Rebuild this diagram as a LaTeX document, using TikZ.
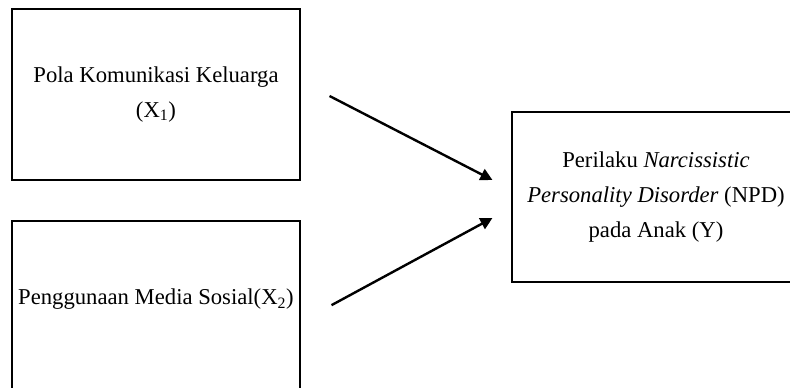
\documentclass[tikz,border=0pt]{standalone}
\usepackage{fontspec}
\setmainfont{Liberation Serif}
\usetikzlibrary{arrows.meta}
\begin{document}
\begin{tikzpicture}[x=0.75pt,y=-0.75pt,
  varbox/.style={draw,line width=0.8pt,minimum width=216pt,align=center,
    font=\fontsize{17}{26}\selectfont},
  arr/.style={line width=1.8pt,-{Triangle[length=9pt,width=9pt]}}]
\useasboundingbox (0,0) rectangle (790,388);

\node[varbox,minimum height=128.25pt] (komunikasi) at (156,94.5)
  {Pola Komunikasi Keluarga\\(X\textsubscript{1})};
\node[varbox,anchor=base,inner ysep=0pt,text height=63pt,text depth=79pt] (media) at (156,305)
  {Penggunaan Media Sosial(X\textsubscript{2})};
\node[varbox,minimum height=127.5pt] (npd) at (656,197)
  {Perilaku \textit{Narcissistic}\\\textit{Personality Disorder} (NPD)\\pada Anak (Y)};

\draw[arr] ([shift={(29,1.5)}]komunikasi.east) -- ([shift={(-19,-17)}]npd.west);
\draw[arr] ([shift={(31,-10.5)}]media.east) -- ([shift={(-19,21)}]npd.west);
\end{tikzpicture}
\end{document}
